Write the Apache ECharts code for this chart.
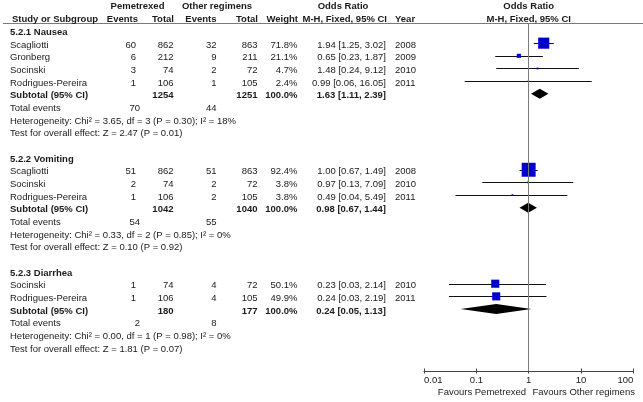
<!DOCTYPE html>
<html>
<head>
<meta charset="utf-8">
<script src="https://cdn.jsdelivr.net/npm/echarts@6/dist/echarts.min.js"></script>
<style>html,body{margin:0;padding:0;background:#fff;}#c{width:643px;height:402px;}</style>
</head>
<body>
<div id="c"></div>
<script>
// ---- data ----
const groupNames = ['5.2.1 Nausea', '5.2.2 Vomiting', '5.2.3 Diarrhea'];
const studyGroup = [0, 0, 0, 0, 1, 1, 1, 2, 2];
const studyNames = ['Scagliotti', 'Gronberg', 'Socinski', 'Rodrigues-Pereira', 'Scagliotti', 'Socinski', 'Rodrigues-Pereira', 'Socinski', 'Rodrigues-Pereira'];
const expEvents = [60, 6, 3, 1, 51, 2, 1, 1, 1];
const expTotal = [862, 212, 74, 106, 862, 74, 106, 74, 106];
const ctrlEvents = [32, 9, 2, 1, 51, 2, 2, 4, 4];
const ctrlTotal = [863, 211, 72, 105, 863, 72, 105, 72, 105];
const weights = [71.8, 21.1, 4.7, 2.4, 92.4, 3.8, 3.8, 50.1, 49.9];
const orEst = [1.94, 0.65, 1.48, 0.99, 1.00, 0.97, 0.49, 0.23, 0.24];
const orLow = [1.25, 0.23, 0.24, 0.06, 0.67, 0.13, 0.04, 0.03, 0.03];
const orHigh = [3.02, 1.87, 9.12, 16.05, 1.49, 7.09, 5.49, 2.14, 2.19];
const years = [2008, 2009, 2010, 2011, 2008, 2010, 2011, 2010, 2011];
const subExpTotal = [1254, 1042, 180];
const subCtrlTotal = [1251, 1040, 177];
const subEst = [1.63, 0.98, 0.24];
const subLow = [1.11, 0.67, 0.05];
const subHigh = [2.39, 1.44, 1.13];
const totExpEvents = [70, 54, 2];
const totCtrlEvents = [44, 55, 8];
const heterogeneity = [
  'Heterogeneity: Chi\u00b2 = 3.65, df = 3 (P = 0.30); I\u00b2 = 18%',
  'Heterogeneity: Chi\u00b2 = 0.33, df = 2 (P = 0.85); I\u00b2 = 0%',
  'Heterogeneity: Chi\u00b2 = 0.00, df = 1 (P = 0.98); I\u00b2 = 0%'
];
const overallEffect = [
  'Test for overall effect: Z = 2.47 (P = 0.01)',
  'Test for overall effect: Z = 0.10 (P = 0.92)',
  'Test for overall effect: Z = 1.81 (P = 0.07)'
];
const tickLabels = ['0.01', '0.1', '1', '10', '100'];
const favourLabels = ['Favours Pemetrexed', 'Favours Other regimens'];

// ---- layout ----
const FONT = '"Liberation Sans", Arial, sans-serif';
const FS = 9.5;
const TXT = '#1a1a1a';
const fmtOR = (e, l, h) => e.toFixed(2) + ' [' + l.toFixed(2) + ', ' + h.toFixed(2) + ']';

const texts = [];   // [x, row, text, align, bold]
const studyPts = []; // [est, row, lo, hi, weight]
const diamonds = []; // [est, row, lo, hi]
function T(x, row, s, align, bold) { texts.push([x, row, String(s), align, bold ? 1 : 0]); }

// header rows
T(137.5, -2.093, 'Pemetrexed', 'center', 1);
T(217, -2.093, 'Other regimens', 'center', 1);
T(343, -2.093, 'Odds Ratio', 'center', 1);
T(528.7, -2.093, 'Odds Ratio', 'center', 1);
T(12, -1.027, 'Study or Subgroup', 'left', 1);
T(138, -1.027, 'Events', 'right', 1);
T(174, -1.027, 'Total', 'right', 1);
T(216.5, -1.027, 'Events', 'right', 1);
T(258, -1.027, 'Total', 'right', 1);
T(298, -1.027, 'Weight', 'right', 1);
T(387, -1.027, 'M-H, Fixed, 95% CI', 'right', 1);
T(395, -1.027, 'Year', 'left', 1);
T(528.7, -1.027, 'M-H, Fixed, 95% CI', 'center', 1);

let row = 0;
groupNames.forEach((g, gi) => {
  T(10, row, g, 'left', 1); row++;
  studyNames.forEach((nm, i) => {
    if (studyGroup[i] !== gi) return;
    T(10, row, nm, 'left', 0);
    T(136, row, expEvents[i], 'right', 0);
    T(173.5, row, expTotal[i], 'right', 0);
    T(216.5, row, ctrlEvents[i], 'right', 0);
    T(257.5, row, ctrlTotal[i], 'right', 0);
    T(297.5, row, weights[i].toFixed(1) + '%', 'right', 0);
    T(386, row, fmtOR(orEst[i], orLow[i], orHigh[i]), 'right', 0);
    T(395, row, years[i], 'left', 0);
    studyPts.push([orEst[i], row, orLow[i], orHigh[i], weights[i]]);
    row++;
  });
  T(10, row, 'Subtotal (95% CI)', 'left', 1);
  T(173.5, row, subExpTotal[gi], 'right', 1);
  T(257.5, row, subCtrlTotal[gi], 'right', 1);
  T(297.5, row, '100.0%', 'right', 1);
  T(386, row, fmtOR(subEst[gi], subLow[gi], subHigh[gi]), 'right', 1);
  diamonds.push([subEst[gi], row, subLow[gi], subHigh[gi]]);
  row++;
  T(10, row, 'Total events', 'left', 0);
  T(140, row, totExpEvents[gi], 'right', 0);
  T(216.5, row, totCtrlEvents[gi], 'right', 0);
  row++;
  T(10, row, heterogeneity[gi], 'left', 0); row++;
  T(10, row, overallEffect[gi], 'left', 0); row++;
  row++;
});
// favours labels below axis
T(526, 28.45, favourLabels[0], 'right', 0);
T(532.5, 28.45, favourLabels[1], 'left', 0);

const PX0 = 30.5, STEP = 12.66;
const TABLE_MIN = -PX0 / STEP, YMAX = (371 - PX0) / STEP;
const FOREST_MIN = (24 - PX0) / STEP;

const chart = echarts.init(document.getElementById('c'), null, { renderer: 'canvas' });
const forestGrid = { left: 424, width: 209.3, top: 24, height: 347 };
chart.setOption({
  animation: false,
  backgroundColor: '#ffffff',
  grid: [
    { left: 0, right: 0, top: 0, height: 371 },
    forestGrid,
    Object.assign({}, forestGrid)
  ],
  xAxis: [
    { type: 'value', gridIndex: 0, min: 0, max: 643, show: false },
    {
      type: 'log', logBase: 10, min: 0.01, max: 100, gridIndex: 1, position: 'bottom',
      splitLine: { show: false }, minorTick: { show: false },
      axisLine: { show: true, onZero: false, lineStyle: { color: '#444', width: 1 } },
      axisTick: { show: true, length: 2.5, lineStyle: { color: '#444' } },
      axisLabel: {
        show: true, margin: 4, color: TXT, fontSize: FS, fontFamily: FONT,
        alignMinLabel: 'left', alignMaxLabel: 'right',
        formatter: (v, i) => tickLabels[i] !== undefined ? tickLabels[i] : ''
      }
    },
    {
      type: 'log', logBase: 10, min: 0.01, max: 100, gridIndex: 2, position: 'bottom',
      splitLine: { show: false }, minorTick: { show: false },
      axisLine: { show: false, onZero: false },
      axisTick: { show: true, inside: true, length: 2.5, lineStyle: { color: '#444' } },
      axisLabel: { show: false }
    }
  ],
  yAxis: [
    { type: 'value', gridIndex: 0, inverse: true, min: TABLE_MIN, max: YMAX, show: false },
    { type: 'value', gridIndex: 1, inverse: true, min: FOREST_MIN, max: YMAX, show: false },
    { type: 'value', gridIndex: 2, inverse: true, min: FOREST_MIN, max: YMAX, show: false }
  ],
  series: [
    { // table header rule
      type: 'custom', xAxisIndex: 0, yAxisIndex: 0, silent: true,
      data: [[3, -0.553, 643]],
      renderItem: (params, api) => {
        const a = api.coord([api.value(0), api.value(1)]);
        const b = api.coord([api.value(2), api.value(1)]);
        const y = Math.round(a[1]) + 0.5;
        return { type: 'line', shape: { x1: a[0], y1: y, x2: b[0], y2: y }, style: { stroke: '#7a7a7a', lineWidth: 1 } };
      }
    },
    { // texts
      type: 'custom', xAxisIndex: 0, yAxisIndex: 0, silent: true, clip: false,
      data: texts.map((t, i) => [t[0], t[1], i]),
      renderItem: (params, api) => {
        const t = texts[api.value(2)];
        const p = api.coord([t[0], t[1]]);
        return {
          type: 'text', x: p[0], y: p[1] + 2,
          style: {
            text: t[2], fill: TXT, align: t[3], verticalAlign: 'middle',
            font: (t[4] ? 'bold ' : '') + FS + 'px ' + FONT
          }
        };
      }
    },
    { // CI whiskers
      type: 'custom', xAxisIndex: 1, yAxisIndex: 1, silent: true, clip: false,
      data: studyPts,
      renderItem: (params, api) => {
        const a = api.coord([api.value(2), api.value(1)]);
        const b = api.coord([api.value(3), api.value(1)]);
        const y = Math.round(a[1]) + 0.5;
        return { type: 'line', shape: { x1: a[0], y1: y, x2: b[0], y2: y }, style: { stroke: '#111', lineWidth: 1 } };
      },
      markLine: {
        silent: true, symbol: 'none', label: { show: false },
        lineStyle: { color: '#7a7a7a', type: 'solid', width: 1 },
        data: [{ xAxis: 1 }]
      },
      z: 2
    },
    { // study squares
      type: 'scatter', xAxisIndex: 1, yAxisIndex: 1, silent: true,
      symbol: 'rect',
      symbolSize: (v) => 1.2 + 0.138 * v[4],
      itemStyle: { color: '#0000cc', opacity: 1 },
      data: studyPts,
      z: 3
    },
    { // subtotal diamonds
      type: 'custom', xAxisIndex: 1, yAxisIndex: 1, silent: true, clip: false,
      data: diamonds,
      renderItem: (params, api) => {
        const c = api.coord([api.value(0), api.value(1)]);
        const l = api.coord([api.value(2), api.value(1)]);
        const h = api.coord([api.value(3), api.value(1)]);
        const hh = 5;
        return {
          type: 'polygon',
          shape: { points: [[l[0], c[1]], [c[0], c[1] - hh], [h[0], c[1]], [c[0], c[1] + hh]] },
          style: { fill: '#000' }
        };
      },
      z: 3
    }
  ]
});
</script>
</body>
</html>
